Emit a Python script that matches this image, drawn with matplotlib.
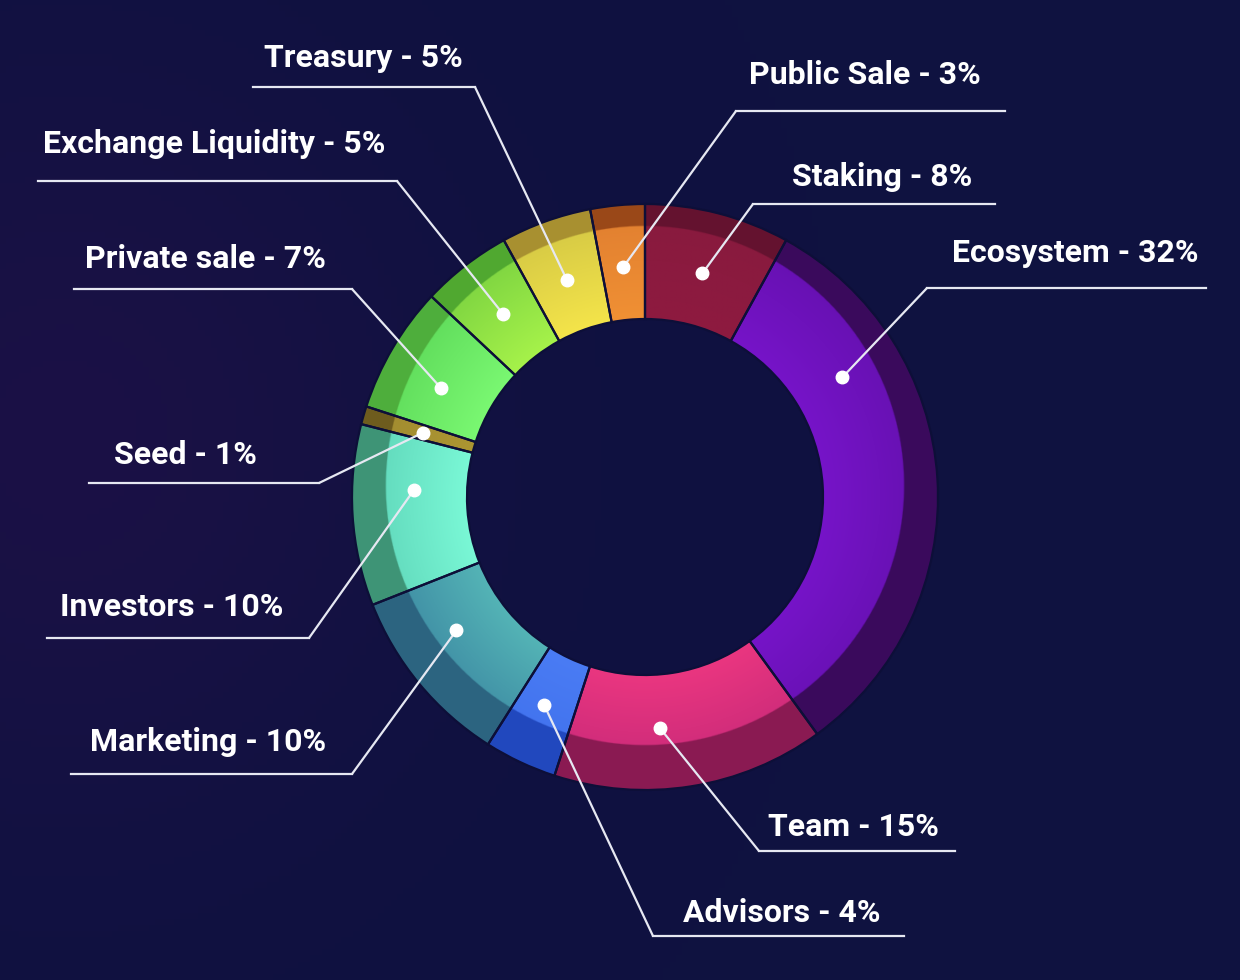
import numpy as np
import matplotlib
matplotlib.use('Agg')
import matplotlib.pyplot as plt
from matplotlib.colors import to_rgb

W, H = 1240, 980

# token allocation, clockwise from 12 o'clock
names = ['Staking', 'Ecosystem', 'Team', 'Advisors', 'Marketing', 'Investors',
         'Seed', 'Private sale', 'Exchange Liquidity', 'Treasury', 'Public Sale']
shares = [8, 32, 15, 4, 10, 10, 1, 7, 5, 5, 3]

# colours: inner (bright), outer, and the darker rim band
c_inner = ['#8e1a40', '#7614c8', '#ea3680', '#4a7cf4', '#54b4b6', '#7af8d6',
           '#ac9632', '#7af872', '#a6f24a', '#f4e44a', '#f09034']
c_outer = ['#881a3e', '#6410ae', '#c42878', '#3f70ec', '#3a84a0', '#5cd2b6',
           '#a08a30', '#5cd858', '#78d040', '#d2c644', '#e07e30']
c_rim = ['#64122f', '#3a0a5c', '#8a1a52', '#2148be', '#2c6480', '#3e9476',
         '#6e5c1e', '#4eae3c', '#50a830', '#a89030', '#9a4818']

# label layout in pixel coords (y measured from top)
# text centre x, text baseline y, underline x0, x1, y, elbow side, dot position in wedge
lay = {
    'Staking':            (882, 186, 753, 995, 204, 'l', 0.5),
    'Ecosystem':          (1075, 262, 927, 1206, 288, 'l', 0.26),
    'Team':               (853, 836, 759, 955, 851, 'l', 0.6),
    'Advisors':           (782, 922, 653, 904, 936, 'l', 0.55),
    'Marketing':          (208, 751, 71, 352, 774, 'r', 0.62),
    'Investors':          (172, 616, 47, 309, 638, 'r', 0.65),
    'Seed':               (185, 464, 89, 319, 483, 'r', 0.5),
    'Private sale':       (205, 268, 74, 352, 289, 'r', 0.4),
    'Exchange Liquidity': (214, 153, 38, 397, 181, 'r', 0.5),
    'Treasury':           (363, 67, 253, 475, 87, 'r', 0.5),
    'Public Sale':        (865, 84, 736, 1005, 111, 'l', 0.5),
}

BG = '#0f1240'
CX, CY = 645, H - 497
R_OUT, R_IN = 293, 178
LCX, LCY, LR = 645, H - 486, 260   # bright area (offset circle)
R_DOT = 231

fig = plt.figure(figsize=(W / 100, H / 100), dpi=100, facecolor=BG)
ax = fig.add_axes([0, 0, 1, 1])
ax.set_facecolor(BG)

# soft purple haze in background
gx, gy = np.meshgrid(np.linspace(0, 1, 200), np.linspace(0, 1, 160))
haze = np.exp(-((gx - 0.05) ** 2 / 0.08 + (gy - 0.55) ** 2 / 0.15))
bg = np.zeros((160, 200, 4))
bg[..., :3] = to_rgb('#24104a')
bg[..., 3] = 0.55 * haze
ax.imshow(bg, extent=[0, W, 0, H], origin='lower', zorder=0, aspect='auto')

wp = dict(width=R_OUT - R_IN, linewidth=0)
# darker rim: full ring underneath
ax.pie(shares, radius=R_OUT, center=(CX, CY), startangle=90,
       counterclock=False, colors=c_rim, wedgeprops=dict(wp, zorder=1))

# wedge shapes used as clip paths for the bright gradient part
clips, _ = ax.pie(shares, radius=R_OUT, center=(CX, CY), startangle=90,
                  counterclock=False, colors=['none'] * len(shares),
                  wedgeprops=dict(wp, zorder=1))

n = 700
xs = np.linspace(CX - R_OUT, CX + R_OUT, n)
ys = np.linspace(CY - R_OUT, CY + R_OUT, n)
mx, my = np.meshgrid(xs, ys)
t = np.clip((np.hypot(mx - CX, my - CY) - R_IN) / (R_OUT - R_IN), 0, 1)[..., None]
alpha = np.clip(LR - np.hypot(mx - LCX, my - LCY), 0, 1)
for w, ci, co in zip(clips, c_inner, c_outer):
    img = np.empty((n, n, 4))
    img[..., :3] = np.array(to_rgb(ci)) * (1 - t) + np.array(to_rgb(co)) * t
    img[..., 3] = alpha
    im = ax.imshow(img, extent=[xs[0], xs[-1], ys[0], ys[-1]], origin='lower',
                   zorder=2, aspect='auto', interpolation='bilinear')
    im.set_clip_path(w)

# thin separators
ax.pie(shares, radius=R_OUT, center=(CX, CY), startangle=90, counterclock=False,
       colors=['none'] * len(shares),
       wedgeprops=dict(width=R_OUT - R_IN, linewidth=1.6, edgecolor='#0d0f38',
                       zorder=4))

# leaders, dots, labels
start = 0.0
for name, s in zip(names, shares):
    tx, tb, x0, x1, uy, side, frac = lay[name]
    ang = np.deg2rad(90 - (start + frac * s) * 3.6)
    start += s
    dx, dy = CX + R_DOT * np.cos(ang), CY + R_DOT * np.sin(ang)
    ex = x0 if side == 'l' else x1
    ax.plot([dx, ex], [dy, H - uy], color='#e6e8f2', lw=1.6, zorder=5,
            solid_capstyle='round')
    ax.plot([x0, x1], [H - uy, H - uy], color='#e6e8f2', lw=1.6, zorder=5)
    ax.plot(dx, dy, 'o', color='white', ms=9, zorder=6)
    ax.text(tx, H - tb, f'{name} - {s}%', color='white', fontsize=23,
            fontweight='bold', family=['Roboto', 'DejaVu Sans'],
            ha='center', va='baseline', zorder=6)

ax.set_xlim(0, W)
ax.set_ylim(0, H)
ax.set_aspect('auto')
ax.axis('off')
fig.savefig('out.png', dpi=100, facecolor=BG)
